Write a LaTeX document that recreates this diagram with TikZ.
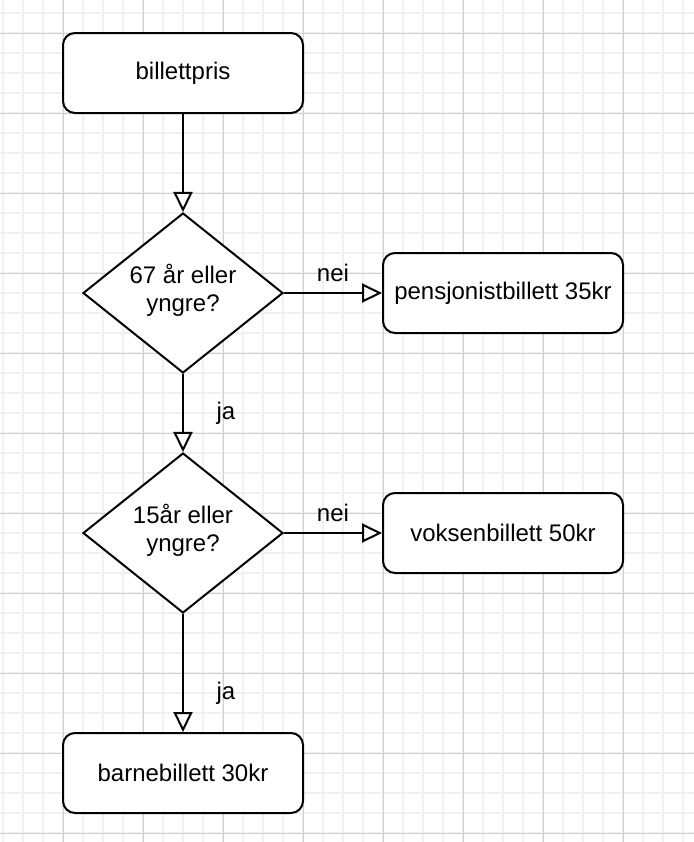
\documentclass[tikz,border=0pt]{standalone}
\usepackage{fontspec}
\setmainfont{Liberation Sans}
\usetikzlibrary{arrows.meta, shapes.geometric}
\definecolor{gridminor}{HTML}{F0F0F0}
\definecolor{gridmajor}{HTML}{D0D0D0}

\begin{document}
\begin{tikzpicture}[
  x=0.5pt, y=-0.5pt,
  every node/.style={font=\fontsize{12}{14}\selectfont},
  box/.style={rectangle, rounded corners=6pt, draw, fill=white, line width=1pt, minimum width=120pt, minimum height=40pt, align=center},
  decision/.style={diamond, draw, fill=white, line width=1pt, minimum width=100pt, minimum height=80pt, inner sep=0pt},
  arr/.style={-{Triangle[open, fill=white, length=10pt, width=9.5pt]}, line width=1pt},
]
\useasboundingbox (0,0) rectangle (694,842);

% Grid
\fill[white] (0,0) rectangle (694,842);
\foreach \gx in {3,23,...,693} \draw[gridminor, line width=1pt] (\gx,0) -- (\gx,842);
\foreach \gy in {13,33,...,833} \draw[gridminor, line width=1pt] (0,\gy) -- (694,\gy);
\foreach \gx in {63,143,...,623} \draw[gridmajor, line width=0.5pt] (\gx,0) -- (\gx,842);
\foreach \gy in {33,113,...,833} \draw[gridmajor, line width=0.5pt] (0,\gy) -- (694,\gy);

% Start
\node[box] (pris) at (183, 73) {billettpris};

% Decisions
\node[decision, label={[align=center, yshift=1.5pt]center:67 år eller\\yngre?}] (alder67) at (183, 293) {};
\node[decision, label={[align=center, yshift=1.5pt]center:15år eller\\yngre?}] (alder15) at (183, 533) {};

% Tickets
\node[box] (pensjonist) at (503, 293) {pensjonistbillett 35kr};
\node[box] (voksen) at (503, 533) {voksenbillett 50kr};
\node[box] (barn) at (183, 773) {barnebillett 30kr};

% Arrows
\draw[arr] (pris) -- (alder67);
\draw[arr] (alder67) -- node[above=2pt] {nei} (pensjonist);
\draw[arr] (alder67) -- node[right=13pt] {ja} (alder15);
\draw[arr] (alder15) -- node[above=2pt] {nei} (voksen);
\draw[arr] (alder15) -- node[pos=0.67, right=13pt] {ja} (barn);

\end{tikzpicture}
\end{document}
